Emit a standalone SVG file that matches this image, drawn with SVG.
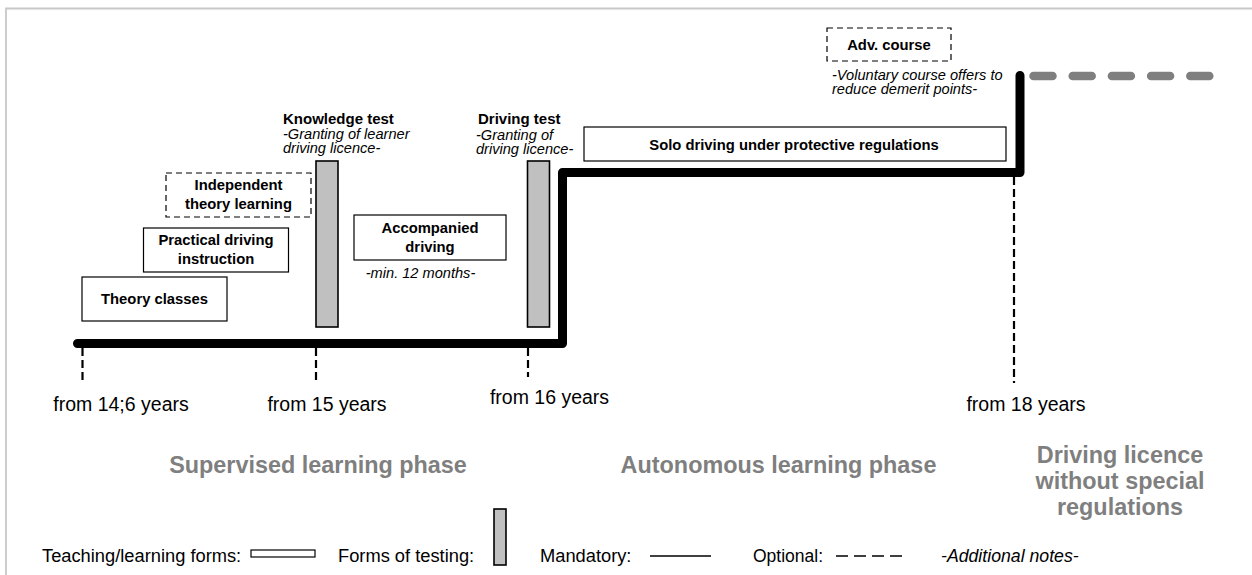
<svg xmlns="http://www.w3.org/2000/svg" width="1252" height="575" viewBox="0 0 1252 575">
<style>
text{font-family:"Liberation Sans",Arial,sans-serif;fill:#000}
.bx{font-weight:bold;font-size:14.8px;text-anchor:middle}
.lb{font-weight:bold;font-size:15px}
.it{font-style:italic;font-size:14.6px}
.age{font-size:19.5px;text-anchor:middle}
.ph{font-weight:bold;font-size:23.4px;fill:#7f7f7f;text-anchor:middle}
.lg{font-size:18.3px}
.box{fill:#fff;stroke:#000;stroke-width:1.2}
.dbox{fill:#fff;stroke:#000;stroke-width:1.2;stroke-dasharray:6 4}
.bar{fill:#c0c0c0;stroke:#000;stroke-width:1.6}
.tick{stroke:#000;stroke-width:2.2;stroke-dasharray:8 4;fill:none}
</style>
<rect width="1252" height="575" fill="#fff"/>
<path d="M6 580 V8.5 H1260" fill="none" stroke="#c8c8c8" stroke-width="1.8"/>

<g id="connectors">
  <path d="M77.5 343.5 H562.5 V172.5 H1020 V75.5" fill="none" stroke="#000" stroke-width="9" stroke-linecap="round" stroke-linejoin="round"/>
  <path d="M1033.5 76 H1212" fill="none" stroke="#7f7f7f" stroke-width="8.5" stroke-linecap="round" stroke-dasharray="19 20.2"/>
  <line class="tick" x1="82.5" y1="348" x2="82.5" y2="382"/>
  <line class="tick" x1="316" y1="348" x2="316" y2="382"/>
  <line class="tick" x1="528" y1="348" x2="528" y2="377"/>
  <line class="tick" x1="1014" y1="177" x2="1014" y2="383" stroke-width="1.7" stroke-dasharray="7 6"/>
</g>

<g id="theory-classes">
  <rect class="box" x="82" y="277" width="145" height="44"/>
  <text class="bx" x="154.5" y="304">Theory classes</text>
</g>
<g id="practical-driving">
  <rect class="box" x="143.5" y="228" width="145" height="44"/>
  <text class="bx" x="216" y="245">Practical driving</text>
  <text class="bx" x="216" y="264">instruction</text>
</g>
<g id="independent-theory">
  <rect class="dbox" x="166" y="173" width="145" height="44" stroke-width="1.1" stroke-dasharray="5 3"/>
  <text class="bx" x="238.5" y="190">Independent</text>
  <text class="bx" x="238.5" y="209">theory learning</text>
</g>
<g id="knowledge-test">
  <rect class="bar" x="316" y="161" width="22" height="166"/>
  <text class="lb" x="283" y="124">Knowledge test</text>
  <text class="it" x="283" y="139">-Granting of learner</text>
  <text class="it" x="283" y="153">driving licence-</text>
</g>
<g id="accompanied-driving">
  <rect class="box" x="354" y="215" width="152" height="45"/>
  <text class="bx" x="430" y="233">Accompanied</text>
  <text class="bx" x="430" y="252">driving</text>
  <text class="it" x="420.5" y="278" text-anchor="middle">-min. 12 months-</text>
</g>
<g id="driving-test">
  <rect class="bar" x="527.5" y="161" width="22" height="166"/>
  <text class="lb" x="478" y="124">Driving test</text>
  <text class="it" x="476" y="140">-Granting of</text>
  <text class="it" x="476" y="154">driving licence-</text>
</g>
<g id="solo-driving">
  <rect class="box" x="584" y="127" width="422" height="34"/>
  <text class="bx" x="794" y="150">Solo driving under protective regulations</text>
</g>
<g id="adv-course">
  <rect class="dbox" x="827" y="28" width="124" height="33" stroke-width="1.6" stroke-dasharray="7 4"/>
  <text class="bx" x="889" y="50">Adv. course</text>
  <text class="it" x="832" y="80">-Voluntary course offers to</text>
  <text class="it" x="832" y="94">reduce demerit points-</text>
</g>

<g id="ages">
  <text class="age" x="121" y="411">from 14;6 years</text>
  <text class="age" x="327" y="411">from 15 years</text>
  <text class="age" x="549.5" y="404">from 16 years</text>
  <text class="age" x="1026" y="411">from 18 years</text>
</g>

<g id="phases">
  <text class="ph" x="318" y="473">Supervised learning phase</text>
  <text class="ph" x="778.5" y="473">Autonomous learning phase</text>
  <text class="ph" x="1120" y="463">Driving licence</text>
  <text class="ph" x="1120" y="489">without special</text>
  <text class="ph" x="1120" y="515">regulations</text>
</g>

<g id="legend">
  <text class="lg" x="42" y="562">Teaching/learning forms:</text>
  <rect class="box" x="251" y="550" width="64" height="7"/>
  <text class="lg" x="338" y="562">Forms of testing:</text>
  <rect class="bar" x="494" y="509" width="12" height="56" stroke-width="1.3"/>
  <text class="lg" x="540" y="562">Mandatory:</text>
  <line x1="650" y1="556" x2="711" y2="556" stroke="#000" stroke-width="1.5"/>
  <text class="lg" x="753" y="562" style="font-size:17.5px">Optional:</text>
  <line x1="836" y1="556" x2="902" y2="556" stroke="#000" stroke-width="1.5" stroke-dasharray="12 6"/>
  <text class="it" x="941" y="562" style="font-size:17.7px">-Additional notes-</text>
</g>
</svg>
